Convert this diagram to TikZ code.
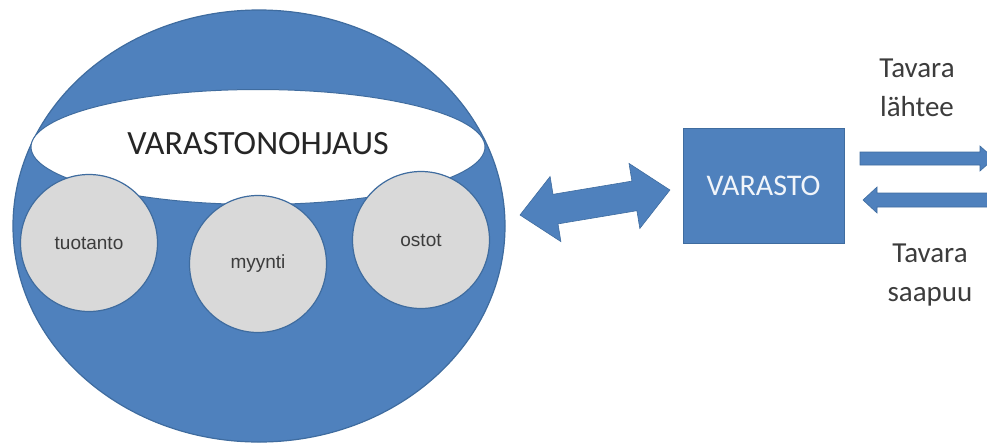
\documentclass[tikz,border=0pt]{standalone}
\usepackage{fontspec}
\usetikzlibrary{shapes.geometric}
\setmainfont{Carlito}
\newfontfamily\arialf{Liberation Sans}
\definecolor{blu}{HTML}{4F81BD}
\definecolor{bluline}{HTML}{3F6C9F}
\definecolor{gry}{HTML}{D9D9D9}
\definecolor{txt}{HTML}{262626}
\begin{document}
\begin{tikzpicture}[x=1pt,y=-1pt,
  bigcirc/.style={ellipse, draw=bluline, line width=1.2pt, fill=blu, inner sep=0pt},
  subcirc/.style={circle, draw=bluline, line width=1.2pt, fill=gry, minimum size=137pt, inner sep=0pt, font=\arialf\fontsize{19}{22}\selectfont, text=txt!90!white},
  blockarrow/.style={fill=blu, draw=bluline, line width=0.6pt},
  lbl/.style={font=\fontsize{29}{39}\selectfont, text=txt!90!white, align=center}]
\useasboundingbox (0,0) rectangle (987,445);
\clip (0,0) rectangle (987,445);
% big circle
\node[bigcirc, minimum width=492pt, minimum height=432pt] (big) at (259,226) {};
% white ellipse
\node[ellipse, draw=bluline, line width=1pt, fill=white, minimum width=454pt, minimum height=115pt, inner sep=0pt] (ctrl) at (258,147) {};
\node[font=\fontsize{34}{40}\selectfont, text=txt] (ctrltxt) at (258,144) {VARASTONOHJAUS};
% sub circles
\node[subcirc] (tuo) at (89,243) {tuotanto};
\node[subcirc] (myy) at (258,264) {myynti};
\node[subcirc] (ost) at (421,240) {ostot};
% double arrow
\draw[blockarrow] (520,215) -- (550.1,176.5) -- (553.0,194.3) -- (631.9,181.1) -- (629.0,163.4)
  -- (669.9,190.0) -- (639.8,228.5) -- (636.9,210.7) -- (558.0,223.9) -- (560.9,241.6) -- cycle;
% VARASTO box
\node[draw=bluline, line width=1pt, fill=blu, minimum width=161pt, minimum height=115pt, inner sep=0pt,
  font=\fontsize{30}{36}\selectfont, text=white!92!blu] (var) at (763.5,185.5) {VARASTO};
% outgoing arrow (right)
\draw[blockarrow] (860,152) -- (980,152) -- (980,146) -- (994,158.5) -- (980,171) -- (980,165) -- (860,165) -- cycle;
% incoming arrow (left)
\draw[blockarrow] (990,193) -- (877,193) -- (877,187) -- (863,200) -- (877,213) -- (877,207) -- (990,207) -- cycle;
% labels
\node[lbl] (out) at (917,88) {Tavara\\lähtee};
\node[lbl] (in) at (930,275) {Tavara\\saapuu};
\end{tikzpicture}
\end{document}
